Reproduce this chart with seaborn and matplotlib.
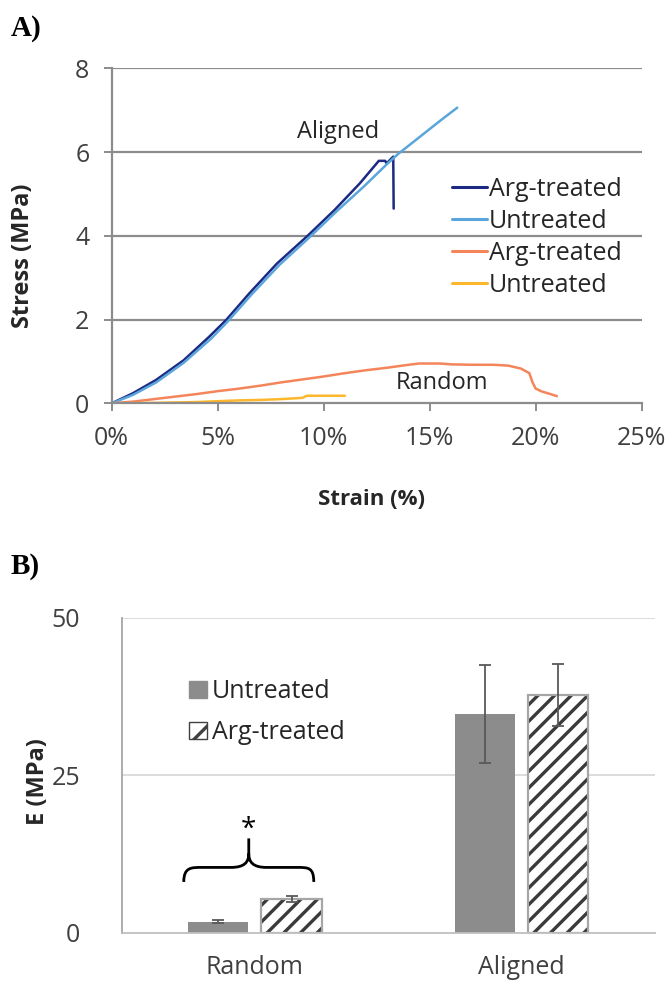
import numpy as np
import pandas as pd
import matplotlib
matplotlib.use("Agg")
import matplotlib.pyplot as plt
from matplotlib.path import Path
from matplotlib.patches import PathPatch, Patch, Rectangle
import seaborn as sns

# ---------------- data: panel A (stress-strain) ----------------
aligned_arg_strain = [0, 1.0, 2.1, 3.4, 4.6, 5.4, 6.5, 7.8, 9.2, 10.5, 11.7, 12.6, 12.9, 12.97, 13.28, 13.30]
aligned_arg_stress = [0, 0.24, 0.56, 1.03, 1.59, 1.99, 2.63, 3.34, 3.98, 4.61, 5.25, 5.79, 5.79, 5.73, 5.89, 4.65]

aligned_unt_strain = [0, 1.0, 2.1, 3.4, 4.7, 5.5, 6.6, 7.9, 9.3, 10.6, 11.9, 13.0, 13.5, 14.5, 15.5, 16.3]
aligned_unt_stress = [0, 0.20, 0.50, 0.97, 1.55, 1.97, 2.60, 3.30, 3.95, 4.58, 5.18, 5.72, 5.95, 6.35, 6.75, 7.06]

random_arg_strain = [0, 1, 2, 3, 4, 5, 6, 7, 8, 9, 10, 11, 12, 13, 14, 14.5, 15.5, 16, 17, 18,
                     18.7, 19.3, 19.7, 19.85, 20.0, 20.3, 20.7, 21.0]
random_arg_stress = [0, 0.04, 0.10, 0.16, 0.22, 0.29, 0.35, 0.42, 0.50, 0.57, 0.64, 0.72, 0.79, 0.85,
                     0.92, 0.95, 0.95, 0.93, 0.92, 0.92, 0.90, 0.83, 0.72, 0.50, 0.35, 0.28, 0.22, 0.17]

random_unt_strain = [0, 2, 4, 5, 6, 7, 8, 9, 9.2, 10, 11]
random_unt_stress = [0, 0.01, 0.03, 0.05, 0.07, 0.08, 0.10, 0.13, 0.18, 0.18, 0.18]

series_keys = ["Aligned Arg-treated", "Aligned Untreated", "Random Arg-treated", "Random Untreated"]
legend_labels_a = ["Arg-treated", "Untreated", "Arg-treated", "Untreated"]
line_colors = ["#1c2a84", "#5aa6dc", "#f4855a", "#fdb72c"]

x_ticks_a = [0, 5, 10, 15, 20, 25]
x_ticklabels_a = ["0%", "5%", "10%", "15%", "20%", "25%"]
y_ticks_a = [0, 2, 4, 6, 8]

# ---------------- data: panel B (modulus) ----------------
categories = ["Random", "Aligned"]
treatments = ["Untreated", "Arg-treated"]
modulus_untreated = [1.8, 34.7]
modulus_arg = [5.35, 37.7]
err_untreated = [0.2, 7.8]
err_arg = [0.5, 4.9]
y_ticks_b = [0, 25, 50]

# ---------------- build frames ----------------
frames = []
for key, xs, ys in zip(series_keys,
                       [aligned_arg_strain, aligned_unt_strain, random_arg_strain, random_unt_strain],
                       [aligned_arg_stress, aligned_unt_stress, random_arg_stress, random_unt_stress]):
    frames.append(pd.DataFrame({"strain": xs, "stress": ys, "series": key}))
df_a = pd.concat(frames, ignore_index=True)

df_b = pd.DataFrame({
    "cat": categories * 2,
    "treat": [treatments[0]] * 2 + [treatments[1]] * 2,
    "E": modulus_untreated + modulus_arg,
})

# ---------------- style ----------------
sns.set_theme(style="white")
plt.rcParams["font.family"] = ["Open Sans", "DejaVu Sans"]
plt.rcParams["hatch.linewidth"] = 2.4
txt = "#404040"

W, H = 671, 986
fig = plt.figure(figsize=(W / 100, H / 100), dpi=100)

# ---------------- panel A ----------------
axA = fig.add_axes([111.7 / W, 1 - 403.3 / H, 530 / W, 335 / H])
sns.lineplot(data=df_a, x="strain", y="stress", hue="series", hue_order=series_keys,
             palette=line_colors, estimator=None, sort=False, linewidth=1.8, ax=axA, legend=False)
axA.set_xlim(0, 25)
axA.set_ylim(0, 8)
axA.set_xticks(x_ticks_a)
axA.set_xticklabels(x_ticklabels_a)
axA.set_yticks(y_ticks_a)
for yv in y_ticks_a[1:]:
    axA.axhline(yv, color="#8c8c8c", lw=1.6, zorder=0)
for s in ["top", "right"]:
    axA.spines[s].set_visible(False)
for s in ["left", "bottom"]:
    axA.spines[s].set_color("#8c8c8c")
    axA.spines[s].set_linewidth(1.6)
axA.tick_params(axis="both", which="major", direction="out", length=6, width=1.4,
                color="#8c8c8c", labelsize=18, labelcolor=txt)
axA.tick_params(axis="y", left=True, pad=10)
axA.tick_params(axis="x", bottom=True, pad=10)
axA.set_xlabel("Strain (%)", fontsize=16, fontweight="bold", color="#262626")
axA.set_ylabel("Stress (MPa)", fontsize=17, fontweight="bold", color="#262626")
axA.xaxis.set_label_coords(0.49, -0.255)
axA.yaxis.set_label_coords(-0.145, 0.44)
axA.text(10.69, 6.48, "Aligned", fontsize=17, color="#262626", ha="center", va="center")
axA.text(15.57, 0.48, "Random", fontsize=17, color="#262626", ha="center", va="center")

handles_a = axA.get_lines()[:4]
leg_a = axA.legend(handles_a, legend_labels_a, loc="upper left",
                   bbox_to_anchor=(451.7 / W, 1 - 176.8 / H), bbox_transform=fig.transFigure,
                   frameon=False, fontsize=18, borderpad=0, handlelength=1.4, handletextpad=0.1,
                   labelspacing=0.28, borderaxespad=0)
for t in leg_a.get_texts():
    t.set_color("#262626")
for lh in leg_a.get_lines():
    lh.set_linewidth(2.2)

# ---------------- panel B ----------------
axB = fig.add_axes([121.7 / W, 1 - 933 / H, 532.8 / W, 315.3 / H])
sns.barplot(data=df_b, x="cat", y="E", hue="treat", order=categories, hue_order=treatments,
            palette=["#8c8c8c", "white"], width=0.55, gap=0.18, errorbar=None, ax=axB,
            legend=False, saturation=1)
axB.set_xlim(-0.5, 1.5)
axB.set_ylim(0, 50)
axB.set_yticks(y_ticks_b)
for yv in y_ticks_b[1:]:
    axB.axhline(yv, color="#d9d9d9", lw=1.3, zorder=0)

cont_unt, cont_arg = axB.containers[0], axB.containers[1]
for p in cont_unt:
    p.set_edgecolor("#8c8c8c")
    p.set_linewidth(0)
for p in cont_arg:
    p.set_hatch("//")
    p.set_edgecolor("#3a3a3a")
    p.set_linewidth(0)
    axB.add_patch(Rectangle((p.get_x(), p.get_y()), p.get_width(), p.get_height(),
                            fill=False, edgecolor="#a6a6a6", lw=1.6, zorder=p.get_zorder() + 0.1))

for cont, vals, errs in [(cont_unt, modulus_untreated, err_untreated), (cont_arg, modulus_arg, err_arg)]:
    xs = [p.get_x() + p.get_width() / 2 for p in cont]
    axB.errorbar(xs, vals, yerr=errs, fmt="none", ecolor="#595959", elinewidth=1.3,
                 capsize=4, capthick=1.3, zorder=5)

for s in ["top", "right"]:
    axB.spines[s].set_visible(False)
axB.spines["left"].set_color("#a6a6a6")
axB.spines["left"].set_linewidth(1.3)
axB.spines["bottom"].set_color("#bfbfbf")
axB.spines["bottom"].set_linewidth(1.3)
axB.tick_params(axis="both", length=0, labelsize=18, labelcolor=txt)
axB.tick_params(axis="y", pad=30)
axB.tick_params(axis="x", pad=16)
axB.set_xlabel("")
axB.set_ylabel("E (MPa)", fontsize=17, fontweight="bold", color="#262626")
axB.yaxis.set_label_coords(-0.135, 0.48)

# significance brace
cx = -0.023
verts = [(-0.267, 8.1), (-0.267, 10.4), (-0.24, 10.4), (-0.20, 10.4),
         (-0.09, 10.4),
         (-0.04, 10.4), (cx, 11.2), (cx, 12.6),
         (cx, 15.0),
         (cx, 12.6),
         (cx, 11.2), (-0.006, 10.4), (0.044, 10.4),
         (0.16, 10.4),
         (0.20, 10.4), (0.221, 10.4), (0.221, 8.1)]
codes = [Path.MOVETO, Path.CURVE4, Path.CURVE4, Path.CURVE4,
         Path.LINETO,
         Path.CURVE4, Path.CURVE4, Path.CURVE4,
         Path.LINETO,
         Path.MOVETO,
         Path.CURVE4, Path.CURVE4, Path.CURVE4,
         Path.LINETO,
         Path.CURVE4, Path.CURVE4, Path.CURVE4]
axB.add_patch(PathPatch(Path(verts, codes), fill=False, edgecolor="black", lw=2.0, zorder=6))
axB.text(cx, 16.3, "*", fontsize=20, ha="center", va="center", color="black")

leg_handles_b = [Patch(facecolor="#8c8c8c", edgecolor="#8c8c8c"),
                 Patch(facecolor="white", edgecolor="#404040", hatch="/", lw=1.0)]
leg_b = axB.legend(leg_handles_b, treatments, loc="upper left",
                   bbox_to_anchor=(189.3 / W, 1 - 679.2 / H), bbox_transform=fig.transFigure,
                   frameon=False, fontsize=18, borderpad=0, handlelength=0.7, handleheight=0.7,
                   handletextpad=0.2, labelspacing=0.64, borderaxespad=0)
for t in leg_b.get_texts():
    t.set_color("#262626")

# panel letters
fig.text(11 / W, 1 - 28 / H, "A)", fontsize=21, fontweight="bold", family="Liberation Serif",
         ha="left", va="center", color="black")
fig.text(11 / W, 1 - 566 / H, "B)", fontsize=21, fontweight="bold", family="Liberation Serif",
         ha="left", va="center", color="black")

fig.savefig("out.png", dpi=100)
